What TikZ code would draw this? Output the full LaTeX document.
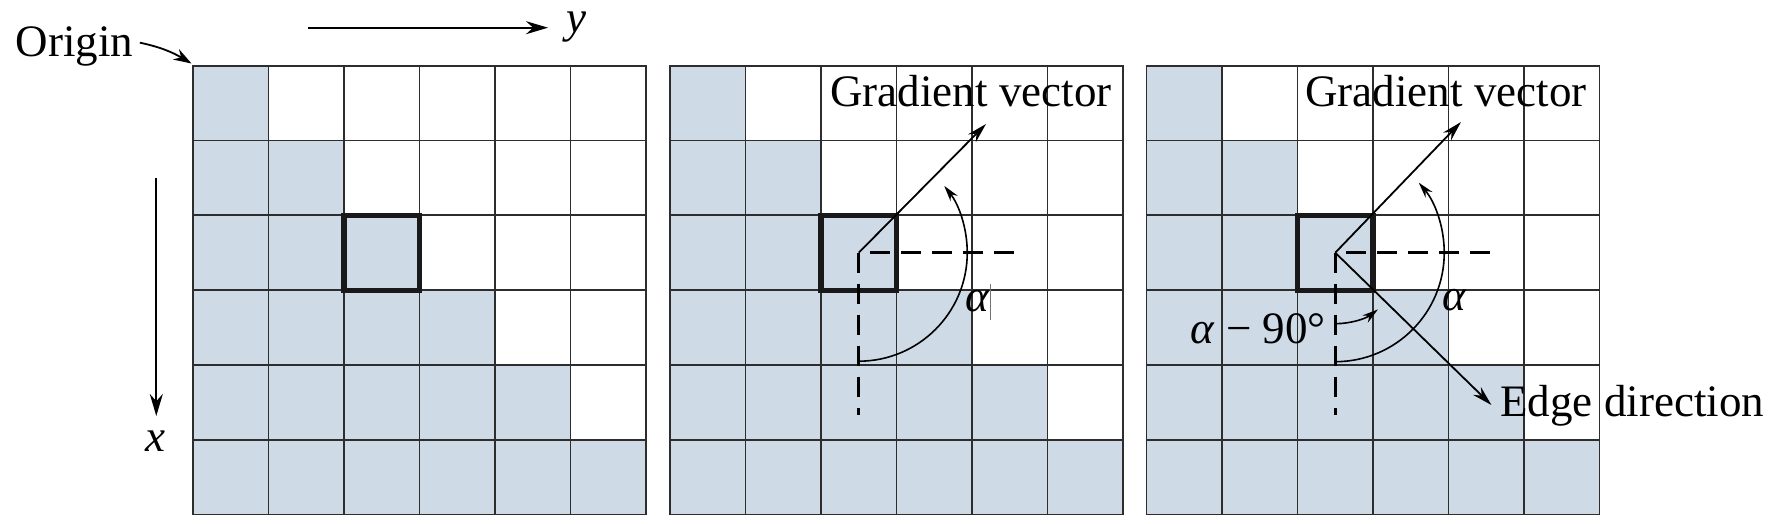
\documentclass[tikz,border=0pt]{standalone}
\usepackage{fontspec}
\setmainfont{Liberation Serif}
\usetikzlibrary{arrows.meta}
\definecolor{cellfill}{RGB}{207,218,231}
\definecolor{gridcol}{RGB}{45,45,45}
\newcommand\drawpanel[1]{%
 \begin{scope}[shift={(#1,65.7)}]
  \foreach \r in {0,...,5}{
    \foreach \c in {0,...,\r}{
      \fill[cellfill] ({\c*75.5},{\r*74.8}) rectangle ++(75.5,74.8);
    }}
  \foreach \i in {0,...,6}{
    \draw[gridline] ({\i*75.5},0) -- ({\i*75.5},448.8);
    \draw[gridline] (0,{\i*74.8}) -- (453,{\i*74.8});
  }
 \end{scope}}
\begin{document}
\begin{tikzpicture}[x=0.5pt,y=-0.5pt, font=\fontsize{22.5}{27}\selectfont,
  gridline/.style={draw=gridcol, line width=0.85pt, line cap=rect},
  boldsq/.style={draw=black!90, line width=2.6pt, minimum width=37.75pt, minimum height=37.4pt, inner sep=0pt},
  axisarrow/.style={-{Stealth[length=11pt,width=6.5pt]}, line width=1.1pt},
  vecarrow/.style={-{Stealth[length=10pt,width=5.5pt]}, line width=0.9pt},
  arcarrow/.style={-{Stealth[length=8pt,width=4.5pt]}, line width=0.8pt},
  refline/.style={line width=1.5pt, dash pattern=on 10pt off 5.5pt},
  lbl/.style={inner sep=0pt}]
\useasboundingbox (0,0) rectangle (1774,524);
\fill[white] (0,0) rectangle (1774,524);

% panels
\drawpanel{193}
\drawpanel{670}
\drawpanel{1146.5}

% ---------- panel 1 ----------
\node[boldsq] (sq1) at (381.75,252.7) {};
\node[lbl, anchor=base west] (origin) at (15.6,56.7) {Origin};
\coordinate (corner1) at (191.5,63.5);
\draw[-{Stealth[length=9pt,width=6pt]}, line width=0.9pt]
  ([xshift=3pt,yshift=2pt]origin.east) .. controls (160,47) and (172,52) .. (corner1);
\coordinate (ys) at (308,27.7);
\coordinate (ye) at (548,27.7);
\draw[axisarrow] (ys) -- (ye);
\node[lbl, anchor=base west] (ylab) at (566,33) {\textit{y}};
\coordinate (xs) at (156.3,178.3);
\coordinate (xe) at (156.3,416);
\draw[axisarrow] (xs) -- (xe);
\node[lbl, anchor=base] (xlab) at (155.5,451.7) {\textit{x}};

% ---------- panel 2 ----------
\node[boldsq] (sq2) at (858.75,252.7) {};
\coordinate (g2) at (986,124);
\coordinate (h2) at (1020,252.7);
\coordinate (v2) at (858.75,415);
\draw[refline, dash phase=10pt] (sq2.center) -- (h2);
\draw[refline] (sq2.center) -- (v2);
\draw[vecarrow] (sq2.center) -- (g2);
\coordinate (a2s) at (858.75,361.2);
\draw[arcarrow] (a2s) arc[start angle=90, end angle=-38, radius=108.5];
\node[lbl, anchor=base west] (grad2) at (830,106.7) {Gradient vector};
\node[lbl, anchor=base] (alpha2) at (977.5,311) {\textit{α}};
\draw[line width=0.5pt, black!55] (990.7,284) -- (990.7,320);

% ---------- panel 3 ----------
\node[boldsq] (sq3) at (1335.25,252.7) {};
\coordinate (g3) at (1461,122);
\coordinate (e3) at (1491.4,405);
\coordinate (h3) at (1496,252.7);
\coordinate (v3) at (1335.25,415);
\draw[refline, dash phase=10pt] (sq3.center) -- (h3);
\draw[refline] (sq3.center) -- (v3);
\draw[vecarrow] (sq3.center) -- (g3);
\draw[vecarrow] (sq3.center) -- (e3);
\coordinate (a3s) at (1335.25,361.7);
\draw[arcarrow] (a3s) arc[start angle=90, end angle=-40, radius=109];
\coordinate (b3s) at (1335.25,323.7);
\draw[arcarrow] (b3s) arc[start angle=90, end angle=53, radius=71];
\node[lbl, anchor=base west] (grad3) at (1305,106.7) {Gradient vector};
\node[lbl, anchor=base west] (edge3) at (1500,416.7) {Edge direction};
\node[lbl, anchor=base] (alpha3) at (1455,310) {\textit{α}};
\node[lbl, anchor=base west] (am90) at (1190,343.3) {\textit{α}\hspace{0.25em}−\hspace{0.25em}90°};
\end{tikzpicture}
\end{document}
